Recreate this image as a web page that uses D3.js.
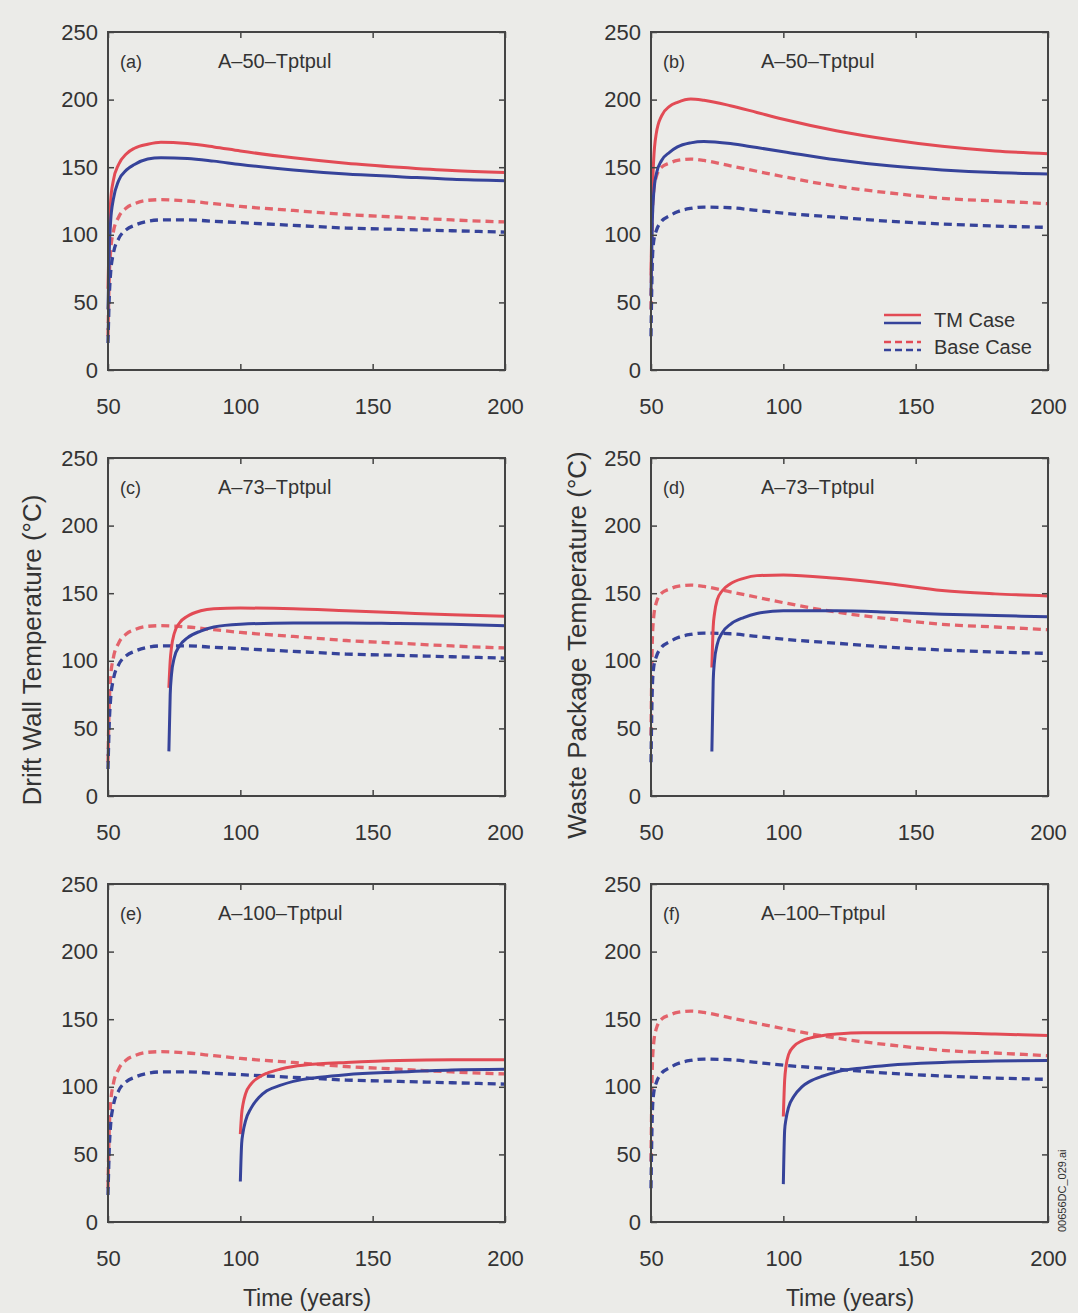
<!DOCTYPE html>
<html>
<head>
<meta charset="utf-8">
<script src="https://cdn.jsdelivr.net/npm/d3@7"></script>
<style>
  body { margin:0; background:#ebebe8; }
  text { font-family:"Liberation Sans", Arial, sans-serif; fill:#333; }
</style>
</head>
<body>
<div id="chart"></div>
<script>
// time axes (years)
const tA50  = [50, 50.5, 51, 52, 54, 57, 60, 65, 70, 80, 90, 100, 120, 140, 160, 180, 200]
const tA73  = [73, 73.5, 74, 75, 77, 80, 85, 90, 100, 120, 140, 160, 180, 200]
const tA100 = [100, 100.5, 101, 102, 104, 107, 110, 115, 120, 130, 140, 160, 180, 200]

// base case (dashed), same in every row
const baseDriftRed  = [25, 70, 88, 102, 113, 120, 123, 125.5, 126, 125, 123, 121, 118, 115, 113, 111, 109.5]
const baseDriftBlue = [20, 55, 72, 86, 97, 104, 107, 110, 111, 111, 110, 109, 107, 105, 104, 103, 102]
const basePkgRed    = [45, 115, 132, 143, 150, 153, 155, 156, 155, 151, 147, 143, 136, 131, 127, 125, 123]
const basePkgBlue   = [25, 80, 95, 103, 110, 114, 117, 119.5, 120.5, 120, 118, 116, 113, 110, 108, 106.5, 105.5]

// TM case (solid)
const tmDriftA50Red   = [60, 105, 125, 140, 152, 160, 164, 167, 168.5, 167.5, 165, 162, 157, 153, 150, 147.5, 146]
const tmDriftA50Blue  = [45, 90, 110, 126, 140, 148, 152, 156, 157, 156.5, 154.5, 152, 148, 145, 143, 141, 140]
const tmPkgA50Red     = [70, 130, 155, 175, 188, 195, 198, 200.5, 199.5, 195.5, 190.5, 185.5, 177, 170.5, 165.5, 162, 160]
const tmPkgA50Blue    = [55, 110, 130, 145, 155, 161, 165, 168, 169, 167.5, 164.5, 161.5, 155.5, 151, 148, 146, 145]
const tmDriftA73Red   = [80, 100, 110, 120, 128, 133, 137, 138.5, 139, 138.5, 137, 135.5, 134, 133]
const tmDriftA73Blue  = [33, 75, 90, 102, 111, 117, 122, 125, 127, 128, 128, 127.5, 127, 126]
const tmPkgA73Red     = [95, 125, 135, 145, 152, 157, 161, 163, 163.5, 161, 157, 152, 149.5, 148]
const tmPkgA73Blue    = [33, 85, 100, 112, 121, 127, 132, 135, 137, 137, 136, 134.5, 133.5, 132.5]
const tmDriftA100Red  = [65, 80, 87, 95, 102, 107, 110, 113, 115, 117, 118, 119.5, 120, 120]
const tmDriftA100Blue = [30, 58, 66, 75, 84, 92, 97, 101, 104, 107, 109, 111, 112.5, 113]
const tmPkgA100Red    = [78, 105, 115, 124, 130, 134, 136, 138, 139, 140, 140, 140, 139, 138]
const tmPkgA100Blue   = [28, 68, 76, 85, 93, 100, 104, 108, 111, 114, 116, 118, 119, 119.5]

const xTicks = [50, 100, 150, 200]
const yTicks = [0, 50, 100, 150, 200, 250]
const panelLetters = ["(a)", "(b)", "(c)", "(d)", "(e)", "(f)"]
const panelNames = ["A\u201350\u2013Tptpul", "A\u201350\u2013Tptpul", "A\u201373\u2013Tptpul", "A\u201373\u2013Tptpul", "A\u2013100\u2013Tptpul", "A\u2013100\u2013Tptpul"]

const RED = "#e24b55", BLUE = "#36439a"

let zip = (t, v) => t.map((d, i) => ({ t: d, v: v[i] }))

let panels = [
  { base: [baseDriftRed, baseDriftBlue], tmT: tA50,  tm: [tmDriftA50Red, tmDriftA50Blue] },
  { base: [basePkgRed, basePkgBlue],     tmT: tA50,  tm: [tmPkgA50Red, tmPkgA50Blue] },
  { base: [baseDriftRed, baseDriftBlue], tmT: tA73,  tm: [tmDriftA73Red, tmDriftA73Blue] },
  { base: [basePkgRed, basePkgBlue],     tmT: tA73,  tm: [tmPkgA73Red, tmPkgA73Blue] },
  { base: [baseDriftRed, baseDriftBlue], tmT: tA100, tm: [tmDriftA100Red, tmDriftA100Blue] },
  { base: [basePkgRed, basePkgBlue],     tmT: tA100, tm: [tmPkgA100Red, tmPkgA100Blue] }
]

let width = 1078, height = 1313
let lefts = [108, 651], tops = [32, 458, 884]
let pw = 397, ph = 338

let svg = d3.select("#chart").append("svg").attr("width", width).attr("height", height)
svg.append("rect").attr("width", width).attr("height", height).attr("fill", "#ebebe8")

let x = d3.scaleLinear().domain([50, 200]).range([0, pw])
let y = d3.scaleLinear().domain([0, 250]).range([ph, 0])

let line = d3.line().x(d => x(d.t)).y(d => y(d.v)).curve(d3.curveMonotoneX)

panels.forEach(function(p, i) {
  let col = i % 2, row = Math.floor(i / 2)
  let g = svg.append("g").attr("transform", `translate(${lefts[col]},${tops[row]})`)

  // base case dashed
  p.base.forEach(function(vals, k) {
    g.append("path").attr("d", line(zip(tA50, vals)))
      .attr("fill", "none").attr("stroke", k == 0 ? RED : BLUE)
      .attr("stroke-width", 3.3).attr("stroke-dasharray", "8,5")
      .attr("opacity", k == 0 ? 0.85 : 1)
  })
  // TM case solid
  p.tm.forEach(function(vals, k) {
    g.append("path").attr("d", line(zip(p.tmT, vals)))
      .attr("fill", "none").attr("stroke", k == 0 ? RED : BLUE)
      .attr("stroke-width", 3)
  })

  let xb = g.append("g").attr("transform", `translate(0,${ph})`)
    .call(d3.axisBottom(x).tickValues(xTicks).tickSizeInner(-6).tickSizeOuter(0).tickPadding(28))
  let xt = g.append("g").call(d3.axisTop(x).tickValues(xTicks).tickSizeInner(-6).tickSizeOuter(0).tickFormat(""))
  let yl = g.append("g").call(d3.axisLeft(y).tickValues(yTicks).tickSizeInner(-6).tickSizeOuter(0).tickPadding(10))
  let yr = g.append("g").attr("transform", `translate(${pw},0)`)
    .call(d3.axisRight(y).tickValues(yTicks).tickSizeInner(-6).tickSizeOuter(0).tickFormat(""))
  ;[xb, xt, yl, yr].forEach(a => {
    a.select(".domain").remove()
    a.selectAll("line").attr("stroke", "#444").attr("stroke-width", 1.5)
    a.selectAll("text").attr("font-size", 22).attr("fill", "#333")
      .style("font-family", '"Liberation Sans", Arial, sans-serif')
  })

  g.append("rect").attr("width", pw).attr("height", ph)
    .attr("fill", "none").attr("stroke", "#444").attr("stroke-width", 2)

  g.append("text").attr("x", 12).attr("y", 36).attr("font-size", 18).text(panelLetters[i])
  g.append("text").attr("x", 110).attr("y", 36).attr("font-size", 20).text(panelNames[i])

  if (i == 1) {
    let lg = g.append("g").attr("transform", `translate(233,283)`)
    lg.append("line").attr("x1", 0).attr("x2", 37).attr("y1", 0).attr("y2", 0).attr("stroke", RED).attr("stroke-width", 2.5)
    lg.append("line").attr("x1", 0).attr("x2", 37).attr("y1", 8).attr("y2", 8).attr("stroke", BLUE).attr("stroke-width", 2.5)
    lg.append("line").attr("x1", 0).attr("x2", 37).attr("y1", 27).attr("y2", 27).attr("stroke", RED).attr("stroke-width", 2.5).attr("stroke-dasharray", "7,4")
    lg.append("line").attr("x1", 0).attr("x2", 37).attr("y1", 35).attr("y2", 35).attr("stroke", BLUE).attr("stroke-width", 2.5).attr("stroke-dasharray", "7,4")
    lg.append("text").attr("x", 50).attr("y", 12).attr("font-size", 20).text("TM Case")
    lg.append("text").attr("x", 50).attr("y", 39).attr("font-size", 20).text("Base Case")
  }
})

// axis titles
svg.append("text").attr("transform", "translate(41,650) rotate(-90)").attr("text-anchor", "middle")
  .attr("font-size", 26).text("Drift Wall Temperature (\u00b0C)")
svg.append("text").attr("transform", "translate(586,645) rotate(-90)").attr("text-anchor", "middle")
  .attr("font-size", 26).text("Waste Package Temperature (\u00b0C)")
svg.append("text").attr("x", 307).attr("y", 1306).attr("text-anchor", "middle").attr("font-size", 23).text("Time (years)")
svg.append("text").attr("x", 850).attr("y", 1306).attr("text-anchor", "middle").attr("font-size", 23).text("Time (years)")
svg.append("text").attr("transform", "translate(1066,1232) rotate(-90)").attr("font-size", 11).text("00656DC_029.ai")
</script>
</body>
</html>
